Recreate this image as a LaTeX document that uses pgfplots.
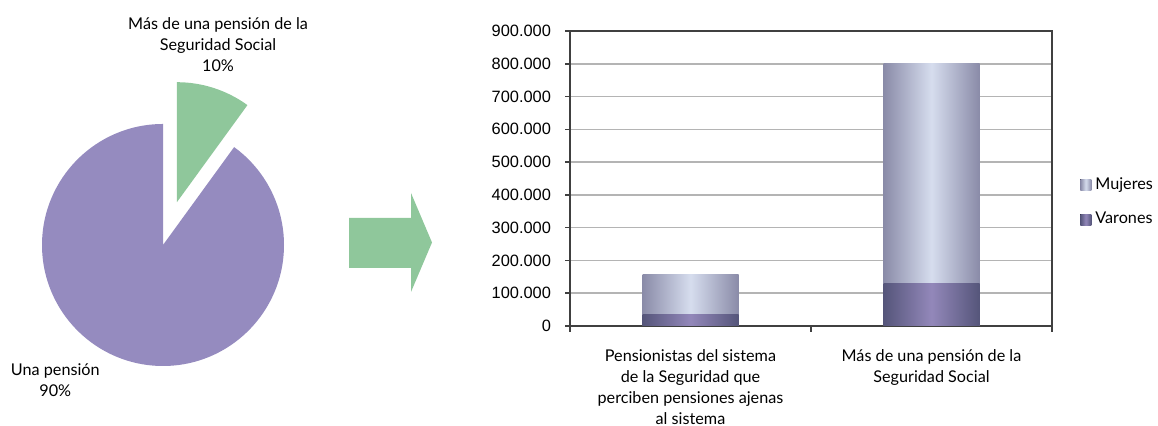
\documentclass[border=0pt]{standalone}
\usepackage{fontspec}
\setmainfont{Lato}
\newfontfamily\arial{Liberation Sans}
\usepackage{pgfplots}
\usepackage{pgfplotstable}
\pgfplotsset{compat=1.18}

\definecolor{lila}{HTML}{958BBF}
\definecolor{verde}{HTML}{8FC79B}
\definecolor{mujEdge}{HTML}{8A8BA8}
\definecolor{mujMid}{HTML}{D6DDEE}
\definecolor{varEdge}{HTML}{55557A}
\definecolor{varMid}{HTML}{9388BA}
\definecolor{rejilla}{HTML}{B4B4B4}

% porcentajes del circulo
\def\pctuna{90}
\def\pctmas{10}

% pensionistas por sexo
\pgfplotstableread{
x varones mujeres
0 34000  122000
1 131000 670000
}\datos

\pgfplotsset{
  mujeres/.style={draw=none, left color=mujEdge, right color=mujEdge, middle color=mujMid},
  varones/.style={draw=none, left color=varEdge, right color=varEdge, middle color=varMid},
}

\begin{document}
\begin{tikzpicture}[font=\fontsize{8.1}{10.5}\selectfont]
\path[use as bounding box] (0,0) rectangle (579pt,213pt);

% ---- circulo ----
\begin{axis}[at={(81.5pt,90.5pt)}, anchor=origin,
             x=60.5pt, y=60.5pt,
             xmin=-1.4, xmax=1.4, ymin=-1.2, ymax=1.2,
             hide axis, clip=false]
  \pgfmathsetmacro{\angfin}{90-3.6*\pctmas}
  \pgfmathsetmacro{\angmed}{90-1.8*\pctmas}
  \fill[lila] (axis cs:0,0) -- ++(90:60.5pt)
      arc[start angle=90, end angle={\angfin+360}, radius=60.5pt] -- cycle;
  \fill[verde] (axis cs:0,0) ++(\angmed:22.5pt) -- ++(90:60pt)
      arc[start angle=90, end angle=\angfin, radius=60pt] -- cycle;
  \node[align=center] at (axis cs:0.455,1.655)
      {Más de una pensión de la\\Seguridad Social\\\pctmas\%};
  \node[align=center] at (axis cs:-0.89,-1.12) {Una pensión\\\pctuna\%};
\end{axis}

% ---- flecha ----
\fill[verde] (174.5pt,79pt) -- (205.5pt,79pt) -- (205.5pt,67pt) -- (216pt,91.75pt)
  -- (205.5pt,116.5pt) -- (205.5pt,104pt) -- (174.5pt,104pt) -- cycle;

% ---- barras ----
\begin{axis}[at={(285pt,50pt)}, anchor=south west,
             scale only axis, width=241pt, height=147.5pt,
             ybar, bar shift=0pt, bar width=48pt,
             xmin=-0.5, xmax=1.5, ymin=0, ymax=900000,
             xtick={0,1},
             xticklabels={{Pensionistas del sistema\\de la Seguridad que\\perciben pensiones ajenas\\al sistema},
                          {Más de una pensión de la\\Seguridad Social}},
             xticklabel style={align=center, anchor=north, yshift=-6pt},
             minor xtick={-0.5,0.5,1.5},
             major x tick style={draw=none},
             minor tick length=3pt,
             ytick={0,100000,...,900000},
             scaled y ticks=false,
             yticklabel style={font=\arial\fontsize{8.2}{9}\selectfont, xshift=-3.5pt,
                 /pgf/number format/.cd, fixed, 1000 sep={.}, assume math mode=true},
             tick align=outside, tick pos=left,
             major tick length=2.5pt,
             tick style={black!75, line width=0.8pt},
             ymajorgrids, grid style={rejilla, line width=0.8pt},
             axis line style={black!75, line width=0.8pt},
             legend style={draw=none, at={(1,0.42)}, anchor=west, xshift=11pt,
                 row sep=6pt, font=\fontsize{8.1}{10.5}\selectfont},
             legend cell align=left,
             legend image code/.code={\fill[#1] (0pt,-2.75pt) rectangle (5.5pt,2.75pt);}]
  % cada barra por separado, para que el degradado quede centrado en ella
  \addplot[mujeres] table[x=x, y expr=\thisrow{varones}+\thisrow{mujeres},
      restrict x to domain=0:0] {\datos};
  \addlegendentry{Mujeres}
  \addplot[mujeres, forget plot] table[x=x, y expr=\thisrow{varones}+\thisrow{mujeres},
      restrict x to domain=1:1] {\datos};
  \addplot[varones] table[x=x, y=varones, restrict x to domain=0:0] {\datos};
  \addlegendentry{Varones}
  \addplot[varones, forget plot] table[x=x, y=varones, restrict x to domain=1:1] {\datos};
\end{axis}
\end{tikzpicture}
\end{document}
